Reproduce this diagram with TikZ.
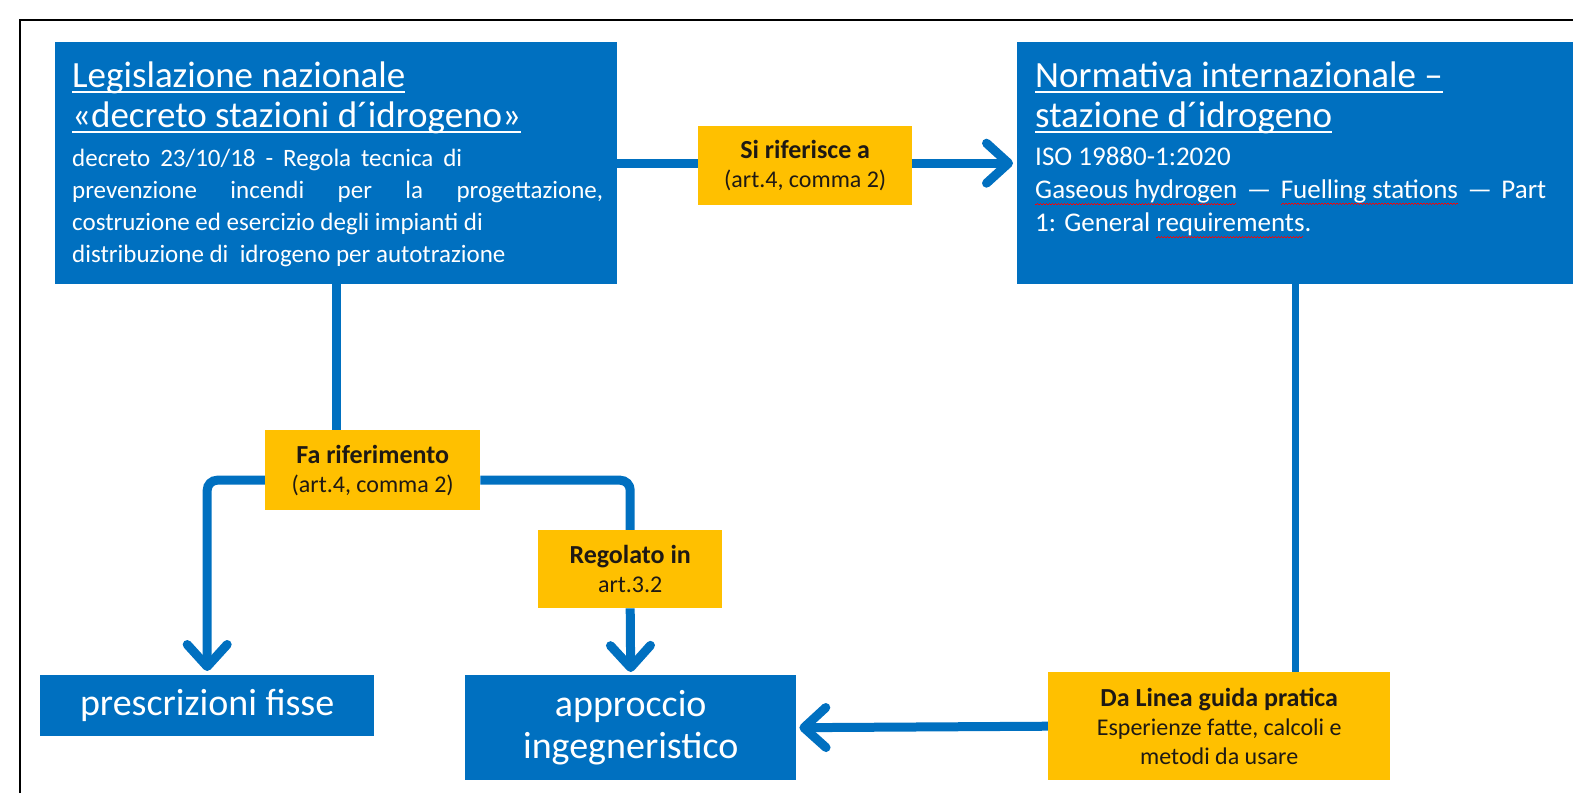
\documentclass[tikz,border=0pt]{standalone}
\usepackage{fontspec}
\setmainfont{Carlito}
\usetikzlibrary{arrows.meta}
\definecolor{myblue}{RGB}{0,112,192}
\definecolor{myyellow}{RGB}{255,192,0}
\definecolor{mytext}{RGB}{30,25,20}
\pgfdeclarelayer{background}
\pgfsetlayers{background,main}
\newsavebox{\myboxa}
\newcommand{\myul}[1]{\sbox{\myboxa}{#1}\rlap{\rule[-5pt]{\wd\myboxa}{1.8pt}}\usebox{\myboxa}}
\newcommand{\spl}[1]{\sbox{\myboxa}{#1}\rlap{\raisebox{-6pt}{\color{red}\leaders\hbox to 3pt{\rule[0pt]{1.5pt}{0.9pt}\rule[1.1pt]{1.5pt}{0.9pt}}\hskip\wd\myboxa}}\usebox{\myboxa}}
\newcommand{\bld}[1]{{\fontsize{26}{30}\selectfont\textbf{#1}}}
\begin{document}
\begin{tikzpicture}[x=1pt,y=-1pt,
  bluebox/.style={fill=myblue,draw=none,inner sep=0pt,anchor=north west},
  yelbox/.style={fill=myyellow,draw=none,inner sep=0pt,anchor=north west,text=mytext,align=center,font=\fontsize{24}{29}\selectfont},
  wtext/.style={text=white,inner sep=0pt,anchor=north west,align=left},
  conn/.style={draw=myblue,line width=9pt},
  tip/.style={-{Straight Barb[length=22pt,width=40pt,round]}},
]
\useasboundingbox (0,0) rectangle (1573,793);
\draw[line width=1.5pt] (20,793) -- (20,20) -- (1573,20);

% blue boxes
\node[bluebox,minimum width=562pt,minimum height=242pt] (leg) at (55,42) {};
\node[bluebox,minimum width=556pt,minimum height=242pt] (norm) at (1017,42) {};
\node[bluebox,minimum width=334pt,minimum height=61pt,text=white,font=\fontsize{38}{42}\selectfont] (presc) at (40,675) {prescrizioni fisse};
\node[bluebox,minimum width=331pt,minimum height=105pt,text=white,align=center,font=\fontsize{38}{42}\selectfont] (appr) at (465,675) {approccio\\ingegneristico};

% texts in top boxes
\node[wtext,font=\fontsize{37}{40}\selectfont] (legtitle) at (72,62) {\myul{Legislazione nazionale}\\\myul{«decreto stazioni d´idrogeno»}};
\node[wtext,font=\fontsize{25}{32}\selectfont] (legbody) at (72,149) {\makebox[390pt][s]{decreto 23/10/18 - Regola tecnica di}\\\makebox[531pt][s]{prevenzione incendi per la progettazione,}\\costruzione ed esercizio degli impianti di\\distribuzione di\ \ idrogeno per autotrazione};
\node[wtext,font=\fontsize{37}{40}\selectfont] (normtitle) at (1035,62) {\myul{Normativa internazionale –}\\\myul{stazione d´idrogeno}};
\node[wtext,font=\fontsize{27}{33}\selectfont] (normbody) at (1035,147) {ISO 19880-1:2020\\\makebox[511pt][s]{\spl{Gaseous hydrogen} — \spl{Fuelling stations} — Part}\\1: General \spl{requirements}.};

% yellow boxes
\node[yelbox,minimum width=214pt,minimum height=79pt] (si) at (698,126) {\bld{Si riferisce a}\\(art.4, comma 2)};
\node[yelbox,minimum width=215pt,minimum height=80pt] (fa) at (265,430) {\bld{Fa riferimento}\\(art.4, comma 2)};
\node[yelbox,minimum width=184pt,minimum height=78pt] (reg) at (538,530) {\bld{Regolato in}\\art.3.2};
\node[yelbox,minimum width=342pt,minimum height=108pt] (dal) at (1048,672) {\bld{Da Linea guida pratica}\\Esperienze fatte, calcoli e\\metodi da usare};

% connectors
\begin{pgfonlayer}{background}
\draw[conn,tip,shorten >=4pt] (leg.east) -- (norm.west);
\draw[conn] (leg.south) -- (leg.south |- fa.center);
\draw[conn,tip,rounded corners=10pt,shorten >=4pt] ([yshift=-10pt]fa.west) -| (presc.north);
\draw[conn,rounded corners=10pt] ([yshift=-10pt]fa.east) -| (reg.north);
\draw[conn,tip,shorten >=3pt] (reg.south) -- (appr.north);
\draw[conn,line width=7pt] (norm.south) -- (norm.south |- dal.north);
\draw[conn,tip,shorten >=3pt] (dal.west) -- (appr.east);
\end{pgfonlayer}
\end{tikzpicture}
\end{document}
